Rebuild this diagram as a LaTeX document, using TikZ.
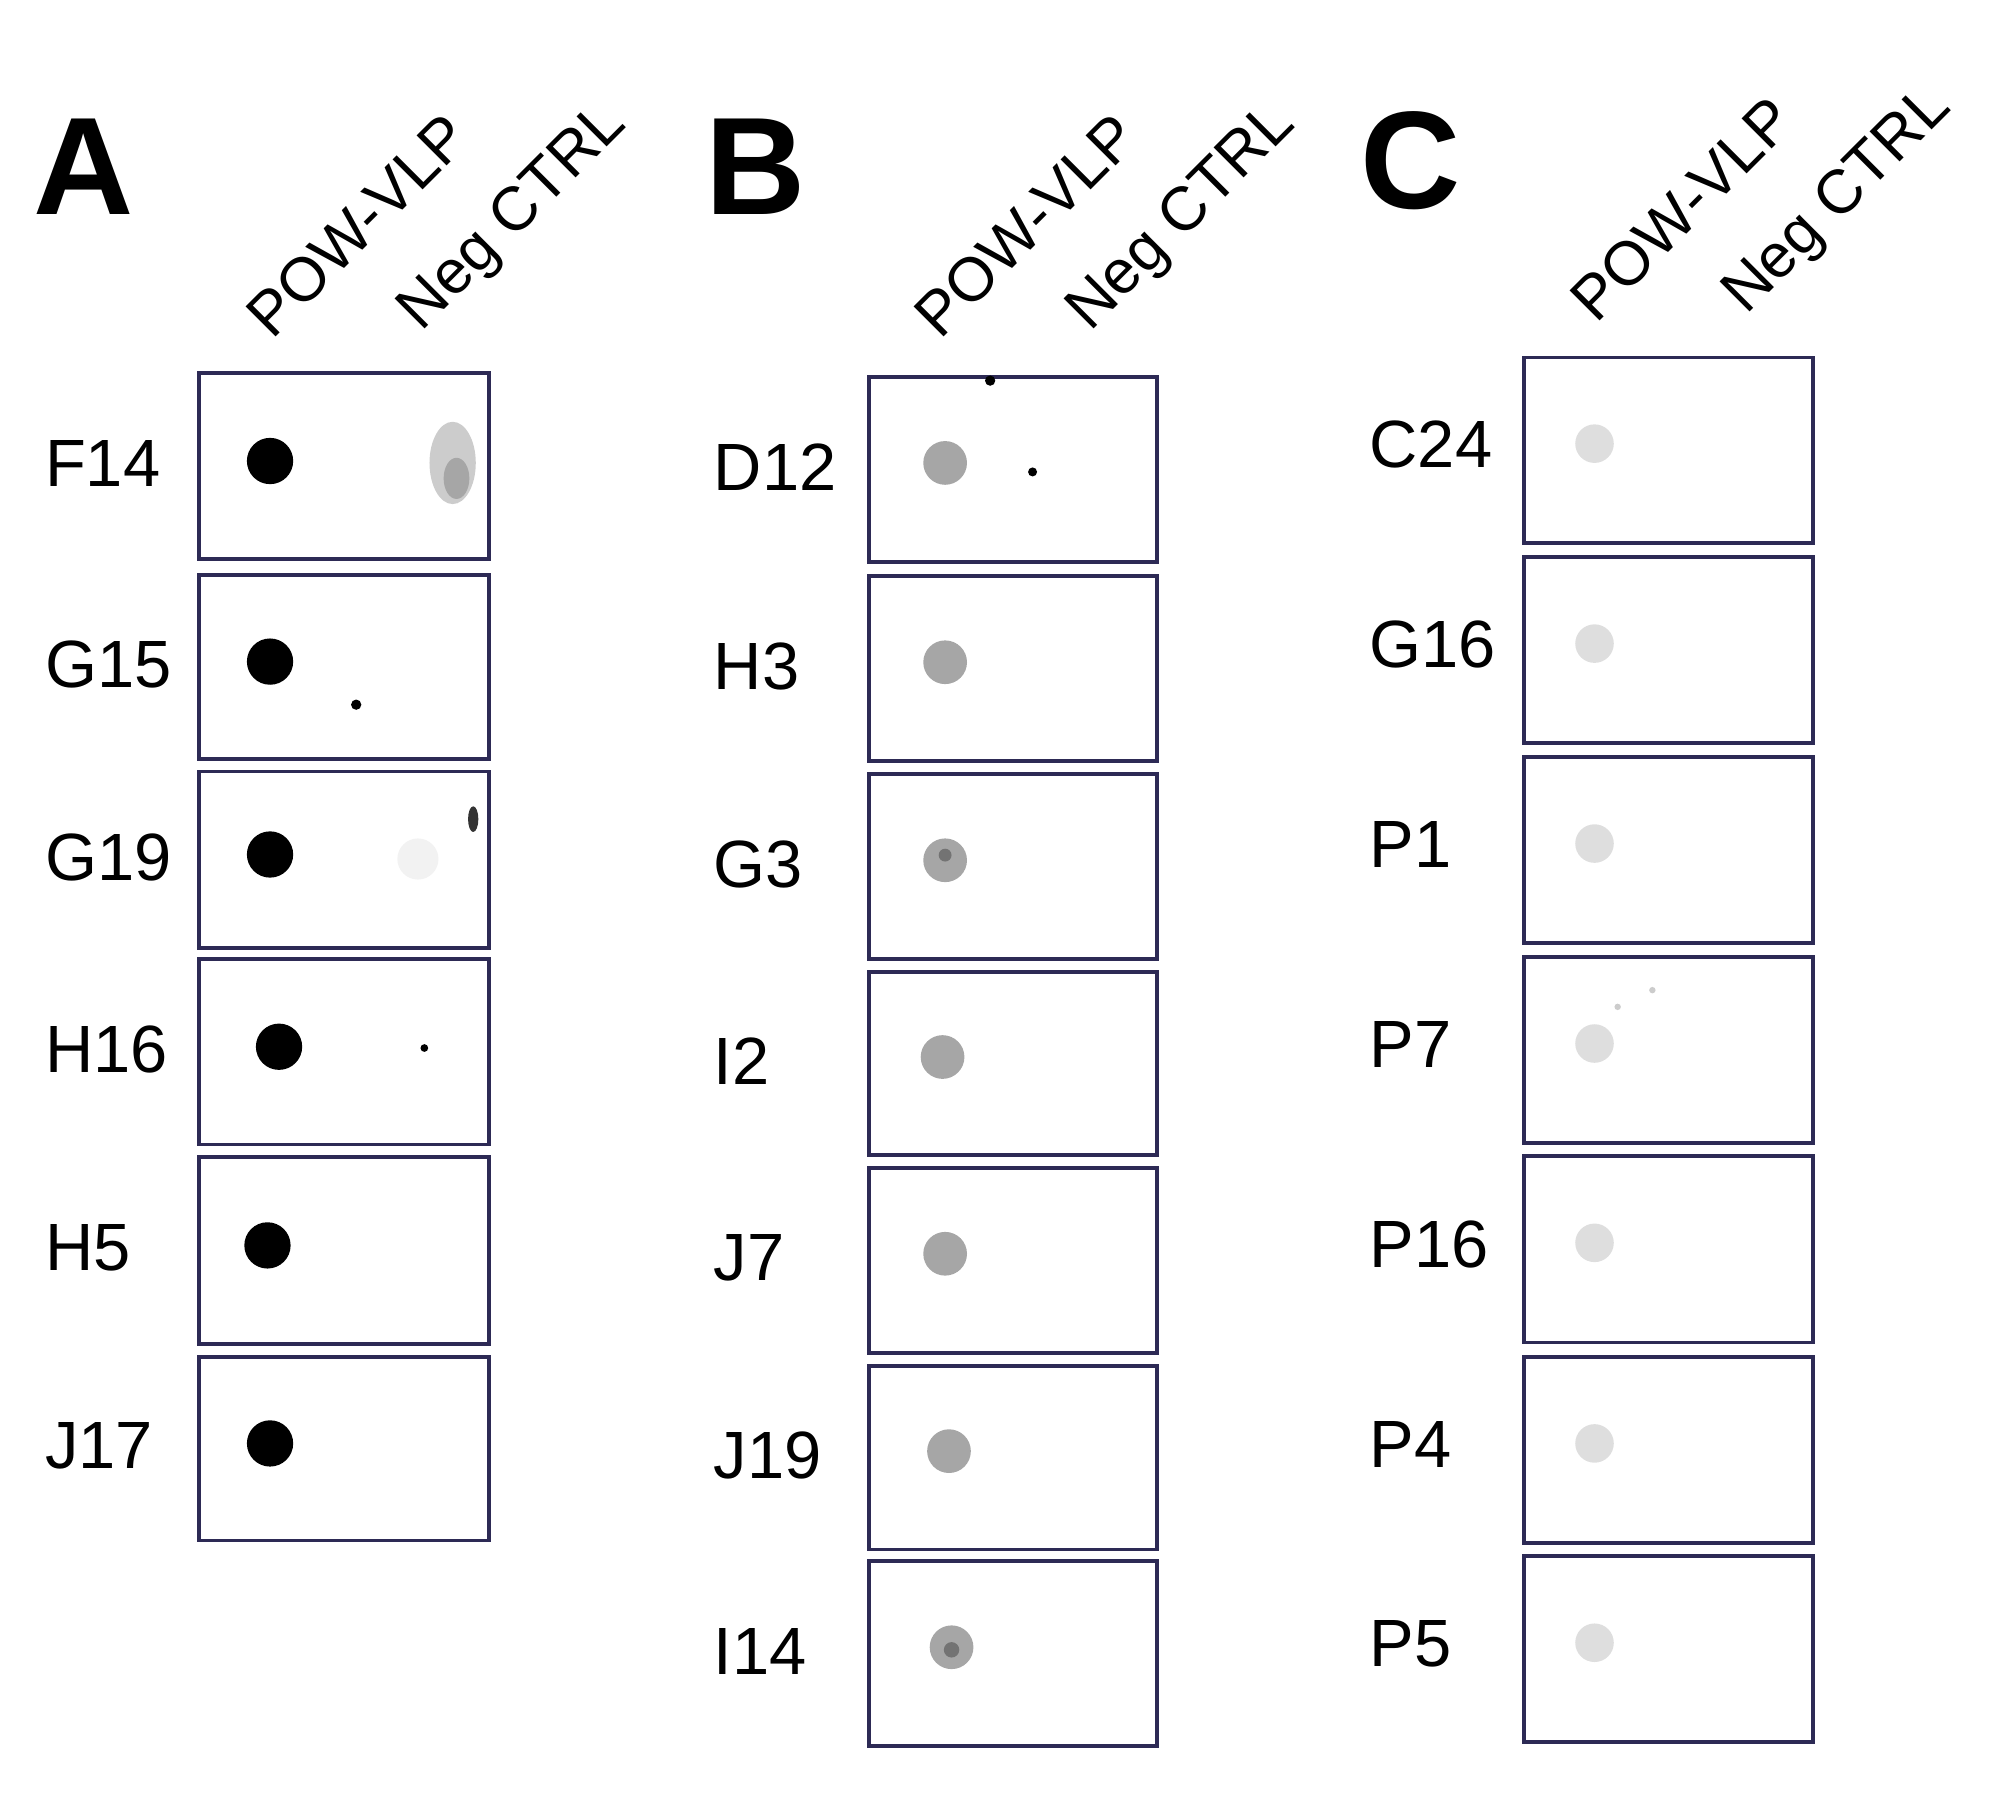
\documentclass[tikz,border=0pt]{standalone}
\usepackage{fontspec}
\setmainfont{Liberation Sans}
\begin{document}
\begin{tikzpicture}[x=0.5pt,y=-0.5pt,
  rowlab/.style={anchor=west,font=\fontsize{26}{28}\selectfont},
  collab/.style={anchor=south west,rotate=45,font=\fontsize{24}{26}\selectfont,inner sep=0pt},
  panel/.style={font=\fontsize{54}{56}\selectfont\bfseries}]
\useasboundingbox (0,0) rectangle (1560,1404);
\definecolor{bc}{RGB}{45,42,85}
\tikzset{blot/.style={draw=bc,line width=1.5pt}}
\node[panel] (pA) at (65,130) {A};
\node[panel] (pB) at (588,130) {B};
\node[panel] (pC) at (1097,125) {C};
\node[collab] (hA1) at (212,266) {POW-VLP};
\node[collab] (hA2) at (335,266) {Neg CTRL};
\node[collab] (hB1) at (732,266) {POW-VLP};
\node[collab] (hB2) at (855,266) {Neg CTRL};
\node[collab] (hC1) at (1242,253) {POW-VLP};
\node[collab] (hC2) at (1365,253) {Neg CTRL};
% panel A
\foreach \t/\b/\l/\dx [count=\i] in {290/435/F14/210,447/590/G15/210,600/737/G19/210,746/890/H16/217,900/1045/H5/208,1055/1198/J17/210}{
  \draw[blot] (155,\t) rectangle (380,\b);
  \node[rowlab] (la\i) at (28,{(\t+\b)/2-2}) {\l};
  \fill[black] (\dx,{(\t+\b)/2-4}) circle (18);
}
\fill[black!20] (352,360) ellipse (18 and 32);
\fill[black!35] (355,372) ellipse (10 and 16);
\fill[black] (277,548) circle (4);
\fill[black] (330,815) circle (3);
\fill[black!80] (368,637) ellipse (4 and 10);
\fill[black!5] (325,668) circle (16);
% panel B
\foreach \t/\b/\l/\dx [count=\i] in {293/437/D12/735,448/592/H3/735,602/746/G3/735,756/898/I2/733,908/1052/J7/735,1062/1205/J19/738,1214/1358/I14/740}{
  \draw[blot] (676,\t) rectangle (900,\b);
  \node[rowlab] (lb\i) at (548,{(\t+\b)/2-2}) {\l};
  \fill[black!35] (\dx,{(\t+\b)/2-5}) circle (17);
}
\fill[black!55] (735,665) circle (5);
\fill[black!55] (740,1283) circle (6);
\fill[black] (803,367) circle (3.5);
\fill[black] (770,296) circle (4);
% panel C
\foreach \t/\b/\l [count=\i] in {278/422/C24,433/578/G16,589/733/P1,744/889/P7,899/1044/P16,1055/1200/P4,1210/1355/P5}{
  \draw[blot] (1185,\t) rectangle (1410,\b);
  \node[rowlab] (lc\i) at (1058,{(\t+\b)/2-4}) {\l};
  \fill[black!13] (1240,{(\t+\b)/2-5}) circle (15);
}
\fill[black!20] (1258,783) circle (2.5);
\fill[black!20] (1285,770) circle (2.5);
\end{tikzpicture}
\end{document}
